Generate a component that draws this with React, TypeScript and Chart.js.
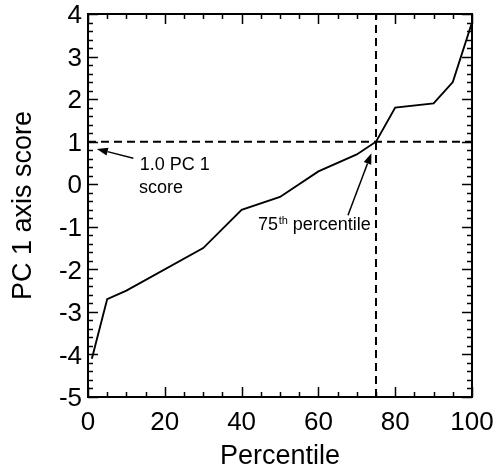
import { useEffect, useRef } from "react";
import { Chart, registerables } from "chart.js";

Chart.register(...registerables);

// ---- data ----
const percentile = [1, 5, 10, 30, 40, 50, 60, 70, 75, 80, 90, 95, 100];
const pcScore = [-4.1, -2.7, -2.5, -1.5, -0.6, -0.3, 0.3, 0.7, 1.0, 1.8, 1.9, 2.4, 3.8];
const refScore = 1.0;
const refPercentile = 75;
const xRange = [0, 100];
const yRange = [-5, 4];
const xMajorStep = 20;
const xMinorStep = 5;
const yMajorStep = 1;
const yMinorStep = 0.2;

const xTitle = "Percentile";
const yTitle = "PC 1 axis score";
const noteScoreLines = ["1.0 PC 1", "score"];
const notePctBase = "75";
const notePctSup = "th";
const notePctRest = " percentile";

const FONT = "'Liberation Sans', Arial, Helvetica, sans-serif";

function arrow(ctx: CanvasRenderingContext2D, x1: number, y1: number, x2: number, y2: number) {
  const ang = Math.atan2(y2 - y1, x2 - x1);
  const headLen = 11;
  const headW = 4;
  const bx = x2 - headLen * Math.cos(ang);
  const by = y2 - headLen * Math.sin(ang);
  ctx.beginPath();
  ctx.moveTo(x1, y1);
  ctx.lineTo(bx, by);
  ctx.lineWidth = 1.5;
  ctx.stroke();
  ctx.beginPath();
  ctx.moveTo(x2, y2);
  ctx.lineTo(bx + headW * Math.sin(ang), by - headW * Math.cos(ang));
  ctx.lineTo(bx - headW * Math.sin(ang), by + headW * Math.cos(ang));
  ctx.closePath();
  ctx.fill();
}

const framePlugin = {
  id: "frameTicks",
  afterDraw(chart: any) {
    const { ctx, chartArea, scales } = chart;
    const { left, right, top, bottom } = chartArea;
    const x = scales.x;
    const y = scales.y;
    ctx.save();
    ctx.strokeStyle = "#000";
    ctx.fillStyle = "#000";
    ctx.lineWidth = 2;
    ctx.strokeRect(left, top, right - left, bottom - top);
    ctx.lineWidth = 1.5;
    const seg = (a: number, b: number, c: number, d: number) => {
      ctx.beginPath();
      ctx.moveTo(a, b);
      ctx.lineTo(c, d);
      ctx.stroke();
    };
    const nx = Math.round((xRange[1] - xRange[0]) / xMinorStep);
    for (let i = 0; i <= nx; i++) {
      const v = xRange[0] + i * xMinorStep;
      const px = Math.round(x.getPixelForValue(v)) + 0.5;
      const major = Math.abs(v / xMajorStep - Math.round(v / xMajorStep)) < 1e-6;
      const len = major ? 10 : 5;
      seg(px, bottom, px, bottom - len);
      seg(px, top, px, top + len);
    }
    const ny = Math.round((yRange[1] - yRange[0]) / yMinorStep);
    for (let i = 0; i <= ny; i++) {
      const v = yRange[0] + i * yMinorStep;
      const py = Math.round(y.getPixelForValue(v)) + 0.5;
      const major = Math.abs(v / yMajorStep - Math.round(v / yMajorStep)) < 1e-6;
      const len = major ? 10 : 5;
      seg(left, py, left + len, py);
      seg(right, py, right - len, py);
    }

    // annotations
    ctx.font = `18px ${FONT}`;
    ctx.textBaseline = "alphabetic";
    ctx.textAlign = "left";
    ctx.fillText(noteScoreLines[0], x.getPixelForValue(13.5), y.getPixelForValue(0.33));
    ctx.fillText(noteScoreLines[1], x.getPixelForValue(13.3), y.getPixelForValue(-0.21));
    arrow(ctx, x.getPixelForValue(11.8), y.getPixelForValue(0.61), x.getPixelForValue(2.3), y.getPixelForValue(0.83));

    let tx = x.getPixelForValue(44.3);
    const ty = y.getPixelForValue(-1.08);
    ctx.fillText(notePctBase, tx, ty);
    tx += ctx.measureText(notePctBase).width;
    ctx.font = `11px ${FONT}`;
    ctx.fillText(notePctSup, tx + 0.5, ty - 6);
    tx += ctx.measureText(notePctSup).width + 0.5;
    ctx.font = `18px ${FONT}`;
    ctx.fillText(notePctRest, tx, ty);
    arrow(ctx, x.getPixelForValue(67.7), y.getPixelForValue(-0.73), x.getPixelForValue(73.8), y.getPixelForValue(0.73));
    ctx.restore();
  },
};

export default function App() {
  const ref = useRef<HTMLCanvasElement | null>(null);
  useEffect(() => {
    if (!ref.current) return;
    const chart = new Chart(ref.current, {
      type: "scatter",
      data: {
        datasets: [
          {
            label: "PC1",
            data: percentile.map((p, i) => ({ x: p, y: pcScore[i] })),
            showLine: true,
            borderColor: "#000",
            borderWidth: 1.9,
            pointRadius: 0,
            fill: false,
          },
          {
            label: "ref score",
            data: [
              { x: xRange[0], y: refScore },
              { x: xRange[1], y: refScore },
            ],
            showLine: true,
            borderColor: "#000",
            borderWidth: 2,
            borderDash: [8, 5],
            pointRadius: 0,
          },
          {
            label: "ref pct",
            data: [
              { x: refPercentile, y: yRange[0] },
              { x: refPercentile, y: yRange[1] },
            ],
            showLine: true,
            borderColor: "#000",
            borderWidth: 2,
            borderDash: [8, 5],
            pointRadius: 0,
          },
        ],
      },
      options: {
        animation: false,
        responsive: false,
        devicePixelRatio: 1,
        layout: { autoPadding: false, padding: { top: 14, right: 24, left: 0, bottom: 0 } },
        plugins: { legend: { display: false }, tooltip: { enabled: false } },
        scales: {
          x: {
            type: "linear",
            min: xRange[0],
            max: xRange[1],
            ticks: { stepSize: xMajorStep, color: "#000", font: { family: FONT, size: 26 }, padding: 10 },
            grid: { display: false, drawTicks: false },
            border: { display: false },
            title: { display: true, text: xTitle, color: "#000", font: { family: FONT, size: 27 }, padding: { top: 0, bottom: 0 } },
            afterFit: (s: any) => {
              s.height = 76;
              s.paddingLeft = 0;
              s.paddingRight = 0;
            },
          },
          y: {
            type: "linear",
            min: yRange[0],
            max: yRange[1],
            ticks: { stepSize: yMajorStep, color: "#000", font: { family: FONT, size: 26 }, padding: 6, labelOffset: 2 },
            grid: { display: false, drawTicks: false },
            border: { display: false },
            title: { display: true, text: yTitle, color: "#000", font: { family: FONT, size: 27 }, padding: { top: 7, bottom: 0 } },
            afterFit: (s: any) => {
              s.width = 88;
              s.paddingTop = 0;
              s.paddingBottom = 0;
            },
          },
        },
      },
      plugins: [framePlugin],
    });
    return () => chart.destroy();
  }, []);
  return (
    <div style={{ position: "fixed", left: 0, top: 0, width: 496, height: 473, background: "#fff" }}>
      <canvas ref={ref} width={496} height={473} style={{ display: "block" }} />
    </div>
  );
}
